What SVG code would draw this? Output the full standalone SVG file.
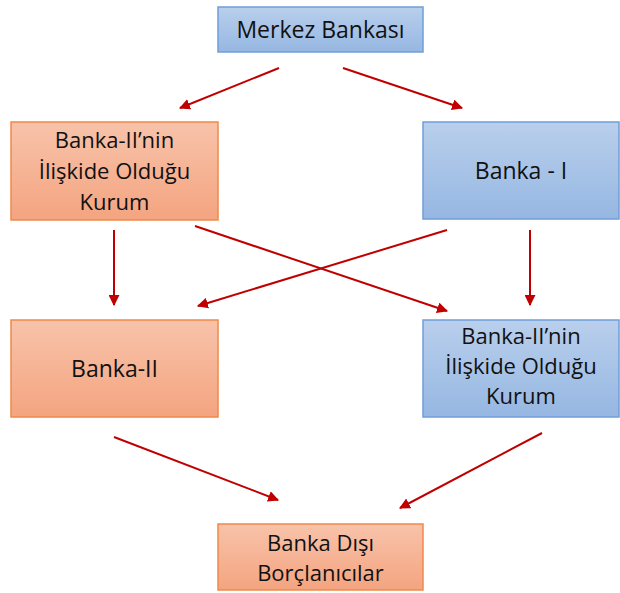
<svg xmlns="http://www.w3.org/2000/svg" width="620" height="593" viewBox="0 0 620 593">
<defs>
<linearGradient id="gb" x1="0" y1="0" x2="0" y2="1"><stop offset="0" stop-color="#b9cfec"/><stop offset="1" stop-color="#96b7e2"/></linearGradient>
<linearGradient id="go" x1="0" y1="0" x2="0" y2="1"><stop offset="0" stop-color="#f8c3aa"/><stop offset="1" stop-color="#f4a480"/></linearGradient>
<marker id="ah" viewBox="0 0 10 10" refX="9" refY="5" markerWidth="5.5" markerHeight="5.5" orient="auto" markerUnits="strokeWidth"><path d="M0,0 L10,5 L0,10 z" fill="#c00000"/></marker>
<style>
.b{fill:url(#gb);stroke:#6f9fd8;stroke-width:1.5}
.o{fill:url(#go);stroke:#f0894a;stroke-width:1.5}
text{font-family:"Open Sans","Liberation Sans",sans-serif;font-size:23px;fill:#111;text-anchor:middle}
text.m{font-size:22px}
.c line{stroke:#c00000;stroke-width:2;marker-end:url(#ah)}
</style>
</defs>
<g id="merkez"><rect class="b" x="218" y="7" width="205" height="45"/><text x="320.5" y="38">Merkez Bankası</text></g>
<g id="iliskili1"><rect class="o" x="11" y="122" width="207" height="98"/><text class="m" x="114.5" y="148">Banka-II’nin</text><text class="m" x="114.5" y="179">İlişkide Olduğu</text><text class="m" x="114.5" y="210">Kurum</text></g>
<g id="banka1"><rect class="b" x="423" y="122" width="196" height="97"/><text x="521" y="179">Banka - I</text></g>
<g id="banka2"><rect class="o" x="11" y="320" width="207" height="97"/><text x="114.5" y="377">Banka-II</text></g>
<g id="iliskili2"><rect class="b" x="423" y="320" width="196" height="97"/><text class="m" x="521" y="344">Banka-II’nin</text><text class="m" x="521" y="374">İlişkide Olduğu</text><text class="m" x="521" y="404">Kurum</text></g>
<g id="disi"><rect class="o" x="218" y="524" width="205" height="66"/><text class="m" x="320.5" y="551">Banka Dışı</text><text class="m" x="320.5" y="581">Borçlanıcılar</text></g>
<g id="connectors" class="c">
<line x1="279" y1="68" x2="180" y2="108"/>
<line x1="343" y1="68" x2="462" y2="108"/>
<line x1="114" y1="230" x2="114" y2="305"/>
<line x1="530" y1="230" x2="530" y2="305"/>
<line x1="195" y1="226" x2="447" y2="311"/>
<line x1="447" y1="230" x2="198" y2="306"/>
<line x1="114" y1="437" x2="278" y2="500"/>
<line x1="542" y1="433" x2="400" y2="508"/>
</g>
</svg>
